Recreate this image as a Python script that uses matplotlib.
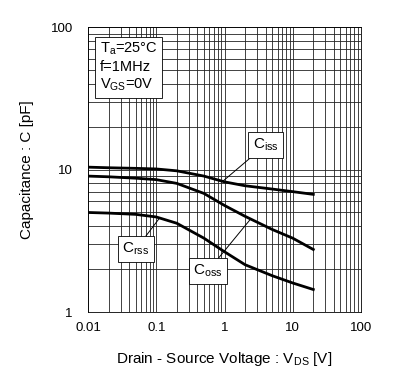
import matplotlib
matplotlib.use("Agg")
import matplotlib.pyplot as plt
from matplotlib.ticker import LogLocator, NullFormatter, FixedLocator, FixedFormatter

plt.rcParams['font.family'] = ['Liberation Sans', 'DejaVu Sans']
plt.rcParams['mathtext.fontset'] = 'custom'
plt.rcParams['mathtext.rm'] = 'Liberation Sans'
plt.rcParams['mathtext.it'] = 'Liberation Sans'

# data
vds = [0.01, 0.02, 0.05, 0.1, 0.2, 0.5, 1, 2, 5, 10, 20]
ciss = [10.4, 10.3, 10.2, 10.1, 9.8, 9.0, 8.2, 7.7, 7.3, 7.0, 6.7]
coss = [9.0, 8.9, 8.7, 8.5, 8.0, 6.8, 5.6, 4.7, 3.8, 3.3, 2.75]
crss = [5.0, 4.95, 4.85, 4.65, 4.2, 3.3, 2.65, 2.15, 1.8, 1.6, 1.44]

x_ticks = [0.01, 0.1, 1, 10, 100]
x_labels = ["0.01", "0.1", "1", "10", "100"]
y_ticks = [1, 10, 100]
y_labels = ["1", "10", "100"]

fig = plt.figure(figsize=(4.0, 3.76), dpi=100)
ax = fig.add_axes([0.22, 0.17, 0.6825, 0.758])

ax.set_xscale('log')
ax.set_yscale('log')
ax.set_xlim(0.01, 100)
ax.set_ylim(1, 100)

ax.xaxis.set_major_locator(FixedLocator(x_ticks))
ax.xaxis.set_major_formatter(FixedFormatter(x_labels))
ax.yaxis.set_major_locator(FixedLocator(y_ticks))
ax.yaxis.set_major_formatter(FixedFormatter(y_labels))
ax.xaxis.set_minor_locator(LogLocator(base=10, subs=range(2, 10)))
ax.yaxis.set_minor_locator(LogLocator(base=10, subs=range(2, 10)))
ax.xaxis.set_minor_formatter(NullFormatter())
ax.yaxis.set_minor_formatter(NullFormatter())

ax.grid(True, which='both', color='#222222', lw=0.6)
ax.tick_params(which='both', length=0, labelsize=9.5)
ax.tick_params(axis='x', pad=7)
ax.tick_params(axis='y', pad=11)
for s in ax.spines.values():
    s.set_linewidth(0.6)

ax.plot(vds, ciss, color='black', lw=2)
ax.plot(vds, coss, color='black', lw=2)
ax.plot(vds, crss, color='black', lw=2)

box = dict(boxstyle='square,pad=0.3', fc='white', ec='black', lw=0.6)
arr = dict(arrowstyle='-', color='black', lw=0.7, shrinkA=0, shrinkB=0)
ax.annotate(r'C$_{\mathregular{iss}}$', xy=(0.95, 8.3), xytext=(4.0, 14.9),
            fontsize=11, bbox=box, arrowprops=arr, ha='center', va='center')
ax.annotate(r'C$_{\mathregular{oss}}$', xy=(2.37, 4.45), xytext=(0.57, 1.94),
            fontsize=11, bbox=box, arrowprops=arr, ha='center', va='center')
ax.annotate(r'C$_{\mathregular{rss}}$', xy=(0.113, 4.6), xytext=(0.0505, 2.77),
            fontsize=11, bbox=box, arrowprops=arr, ha='center', va='center')

ax.text(0.0148, 80, 'T$_{\\mathregular{a}}$=25°C\nf=1MHz\nV$_{\\mathregular{GS}}$=0V',
        fontsize=10.5, va='top', ha='left', linespacing=1.25,
        bbox=dict(boxstyle='square,pad=0.3', fc='white', ec='black', lw=0.6))

ax.set_xlabel(r'Drain - Source Voltage : V$_{\mathregular{DS}}$ [V]', fontsize=11, labelpad=12)
ax.set_ylabel('Capacitance : C [pF]', fontsize=11, labelpad=12)

fig.savefig('out.png', dpi=100)
